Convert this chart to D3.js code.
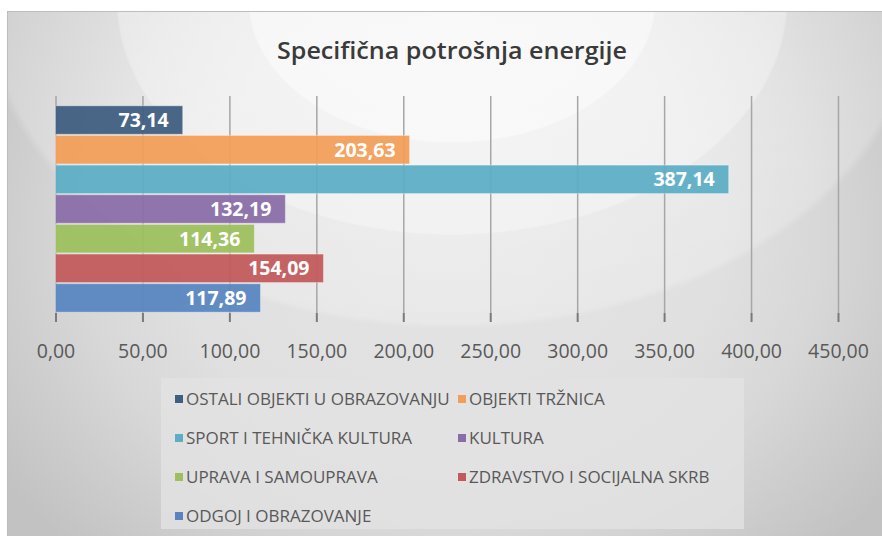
<!DOCTYPE html>
<html>
<head>
<meta charset="utf-8">
<script src="https://cdn.jsdelivr.net/npm/d3@7"></script>
<style>
  html, body { margin: 0; padding: 0; background: #ffffff; }
  svg { display: block; }
</style>
</head>
<body>
<svg id="chart"></svg>
<script>
// chart data
var categories = ["OSTALI OBJEKTI U OBRAZOVANJU",
                  "OBJEKTI TRŽNICA",
                  "SPORT I TEHNIČKA KULTURA",
                  "KULTURA",
                  "UPRAVA I SAMOUPRAVA",
                  "ZDRAVSTVO I SOCIJALNA SKRB",
                  "ODGOJ I OBRAZOVANJE"];
var values = [73.14, 203.63, 387.14, 132.19, 114.36, 154.09, 117.89];
var barColors = ["#3f5e80", "#f29d58", "#5caec6", "#8a6ca8", "#9dbf5d", "#c25a5b", "#5885c0"];
var xTicks = [0, 50, 100, 150, 200, 250, 300, 350, 400, 450];
var title = "Specifična potrošnja energije";

var width = 882, height = 536,
    plot = {left: 55.5, right: 838, top: 96, bottom: 313, barTop: 105.5, barBottom: 312.5};

var fmt = function(v) { return d3.format(".2f")(v).replace(".", ","); };

var svg = d3.select("#chart")
            .attr("width", width)
            .attr("height", height);

var defs = svg.append("defs");

// base background, darker towards the edges
var base = defs.append("radialGradient")
               .attr("id", "bgBase")
               .attr("gradientUnits", "userSpaceOnUse")
               .attr("cx", 450).attr("cy", 240).attr("r", 540)
               .attr("gradientTransform", "translate(450,240) scale(1,0.8) translate(-450,-240)");
[[0, "#e4e4e4"], [0.5, "#e0e0e0"], [0.68, "#d8d8d8"], [0.82, "#cecece"], [1, "#c2c2c2"]]
  .forEach(function(s) { base.append("stop").attr("offset", s[0]).attr("stop-color", s[1]); });

// white glow near the top, in soft bands
var glow = defs.append("radialGradient")
               .attr("id", "bgGlow")
               .attr("gradientUnits", "userSpaceOnUse")
               .attr("cx", 452).attr("cy", 0).attr("r", 470)
               .attr("gradientTransform", "translate(452,0) scale(1,0.7) translate(-452,0)");
[[0, 0.8], [0.43, 0.78], [0.435, 0.6], [0.71, 0.52], [0.715, 0.32], [0.98, 0.22], [1, 0]]
  .forEach(function(s) {
    glow.append("stop").attr("offset", s[0]).attr("stop-color", "#ffffff").attr("stop-opacity", s[1]);
  });

svg.append("rect")
   .attr("x", 7.5).attr("y", 11.5)
   .attr("width", 900).attr("height", 560)
   .attr("fill", "url(#bgBase)")
   .attr("stroke", "#bdbdbd");
svg.append("rect")
   .attr("x", 8).attr("y", 12)
   .attr("width", 900).attr("height", 560)
   .attr("fill", "url(#bgGlow)");

// title
svg.append("text")
   .attr("x", 452).attr("y", 59)
   .attr("text-anchor", "middle")
   .attr("textLength", 350)
   .attr("lengthAdjust", "spacingAndGlyphs")
   .style("font-family", "'Open Sans', sans-serif")
   .style("font-size", "24px")
   .style("font-weight", 600)
   .style("fill", "#3a3a3a")
   .text(title);

var xScale = d3.scaleLinear().domain([0, 450]).range([plot.left, plot.right]);
var yScale = d3.scaleBand()
               .domain(categories)
               .range([plot.barTop, plot.barBottom])
               .paddingInner(0.04)
               .paddingOuter(0.01);

// gridlines
svg.append("g")
   .attr("class", "grid")
   .attr("transform", "translate(0," + plot.top + ")")
   .call(d3.axisBottom(xScale).tickValues(xTicks).tickSize(plot.bottom - plot.top).tickFormat(""))
   .call(function(g) {
     g.select(".domain").remove();
     g.selectAll("line").attr("stroke", "#a6a6a6").attr("stroke-width", 1.5);
   });

// bars
svg.append("g")
   .selectAll("rect")
   .data(values)
   .enter().append("rect")
   .attr("x", xScale(0))
   .attr("y", function(d, i) { return yScale(categories[i]); })
   .attr("width", function(d) { return xScale(d) - xScale(0); })
   .attr("height", yScale.bandwidth())
   .attr("fill", function(d, i) { return barColors[i]; })
   .attr("fill-opacity", 0.94)
   .attr("stroke", "#ffffff")
   .attr("stroke-opacity", 0.35)
   .attr("stroke-width", 1);

// value labels
svg.append("g")
   .selectAll("text")
   .data(values)
   .enter().append("text")
   .attr("x", function(d) { return xScale(d) - 14; })
   .attr("y", function(d, i) { return yScale(categories[i]) + yScale.bandwidth() / 2 + 7; })
   .attr("text-anchor", "end")
   .style("font-family", "'Open Sans', sans-serif")
   .style("font-size", "19.5px")
   .style("font-weight", 700)
   .style("fill", "#ffffff")
   .text(fmt);

// x axis ticks and labels
svg.append("g")
   .attr("class", "x axis")
   .attr("transform", "translate(0," + plot.bottom + ")")
   .call(d3.axisBottom(xScale).tickValues(xTicks).tickSize(9).tickPadding(22).tickFormat(fmt))
   .call(function(g) {
     g.select(".domain").remove();
     g.selectAll("line").attr("stroke", "#7a7a7a").attr("stroke-width", 2);
     g.selectAll("text")
      .style("font-family", "'Open Sans', sans-serif")
      .style("font-size", "19.5px")
      .style("fill", "#595959");
   });

// legend
var legend = svg.append("g").attr("class", "legend");
legend.append("rect")
      .attr("x", 161).attr("y", 378)
      .attr("width", 583).attr("height", 151)
      .attr("fill", "#e2e2e2")
      .attr("fill-opacity", 0.8);

var legendCols = [175, 458];
var item = legend.selectAll("g.item")
                 .data(categories)
                 .enter().append("g")
                 .attr("class", "item")
                 .attr("transform", function(d, i) {
                   return "translate(" + legendCols[i % 2] + "," + (399 + 39 * Math.floor(i / 2)) + ")";
                 });
item.append("rect")
    .attr("x", 0).attr("y", -4)
    .attr("width", 8).attr("height", 8)
    .attr("fill", function(d, i) { return barColors[i]; });
item.append("text")
    .attr("x", 11).attr("y", 6)
    .style("font-family", "'Open Sans', sans-serif")
    .style("font-size", "17px")
    .style("fill", "#595959")
    .text(function(d) { return d; });
</script>
</body>
</html>
